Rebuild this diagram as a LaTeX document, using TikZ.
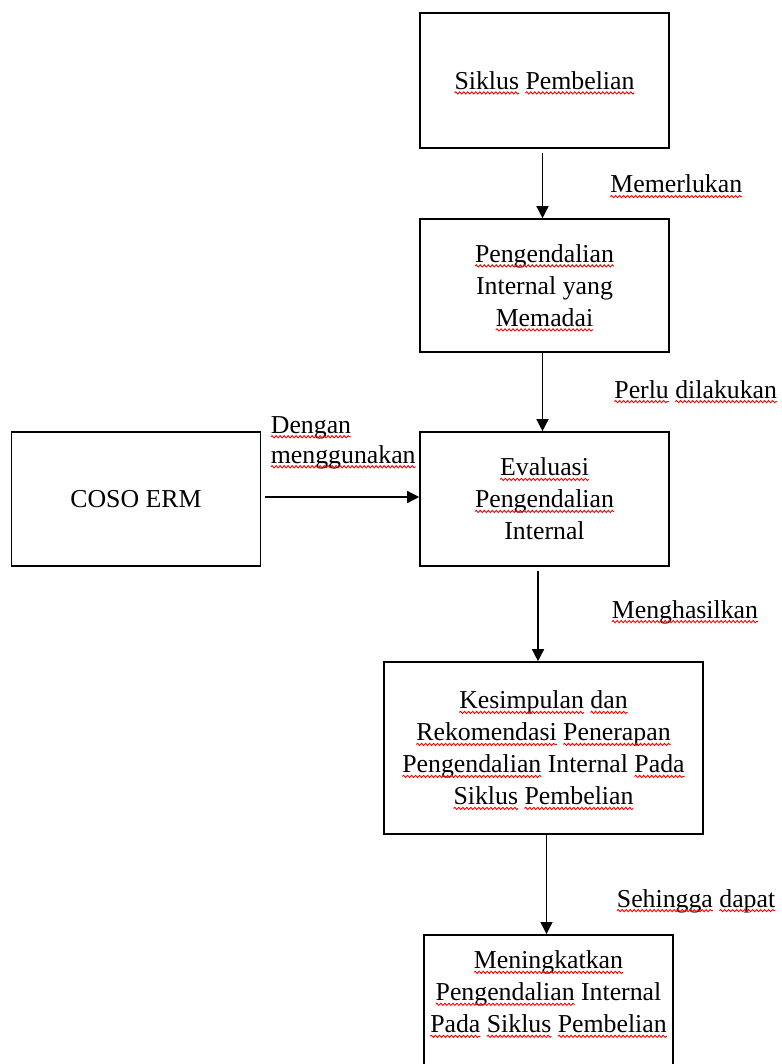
\documentclass[tikz,border=0pt]{standalone}
\usepackage{fontspec}
\setmainfont{Liberation Serif}
\usetikzlibrary{arrows.meta,decorations.pathmorphing}
\newsavebox\sqbox
\newdimen\sqw
\newcommand\sq[1]{\sbox\sqbox{#1}\sqw=\wd\sqbox\rlap{\usebox\sqbox}%
  \tikz[baseline=0pt,x=1pt,y=1pt]{\useasboundingbox (0,0) rectangle (\sqw,0.1);
  \draw[red,line width=0.45pt,decorate,
    decoration={snake,amplitude=0.55pt,segment length=2pt}] (0,-1.8) -- (\sqw,-1.8);}}
\tikzset{
  box/.style={draw, line width=0.8pt, align=center, inner sep=0pt,
    font=\fontsize{12.9}{16}\selectfont},
  lbl/.style={inner sep=0pt, align=left, font=\fontsize{12.9}{15}\selectfont},
  arr/.style={line width=0.7pt, -{Triangle[length=6pt,width=6pt]}},
}
\begin{document}
\begin{tikzpicture}[x=0.5pt,y=-0.5pt]
\useasboundingbox (0,0) rectangle (781,1064);
\clip (0,0) rectangle (781,1064);
% boxes
\node[box, minimum width=124.5pt, minimum height=67.5pt] (b1) at (544.5,80.5)
  {\sq{Siklus} \sq{Pembelian}};
\node[box, minimum width=124.5pt, minimum height=66.5pt] (b2) at (544.5,285.5)
  {\sq{Pengendalian}\\Internal yang\\\sq{Memadai}};
\node[box, minimum width=124.5pt, minimum height=67pt] (b3) at (544.5,499)
  {\sq{Evaluasi}\\\sq{Pengendalian}\\Internal};
\node[box, minimum width=124.5pt, minimum height=67pt] (coso) at (136,499)
  {COSO ERM};
\node[box, minimum width=159.5pt, minimum height=86pt] (b4) at (543.5,748)
  {\sq{Kesimpulan} \sq{dan}\\\sq{Rekomendasi} \sq{Penerapan}\\\sq{Pengendalian} Internal \sq{Pada}\\\sq{Siklus} \sq{Pembelian}};
\node[box, minimum width=124.5pt, minimum height=80pt, anchor=north] (b5) at (548.5,934) {};
\node[box, draw=none, anchor=north] (t5) at (548.5,950)
  {\sq{Meningkatkan}\\\sq{Pengendalian} Internal\\\sq{Pada} \sq{Siklus} \sq{Pembelian}};
% connectors
\draw[arr, shorten <=2pt] ([xshift=-1pt]b1.south) -- ([xshift=-1pt]b1.south |- b2.north);
\draw[arr] ([xshift=-1pt]b2.south) -- ([xshift=-1pt]b2.south |- b3.north);
\draw[arr, shorten <=2pt] ([yshift=1pt]coso.east) -- ([yshift=1pt]coso.east -| b3.west);
\draw[arr, shorten <=2pt] ([xshift=-3.25pt]b3.south) -- ([xshift=-3.25pt]b3.south |- b4.north);
\draw[arr] ([xshift=1.5pt]b4.south) -- ([xshift=1.5pt]b4.south |- b5.north);
% labels
\node[lbl, anchor=base west] (l1) at (610,193) {\sq{Memerlukan}};
\node[lbl, anchor=base west] (l2) at (614,398) {\sq{Perlu} \sq{dilakukan}};
\node[lbl, anchor=west] (l3) at (270.5,442.5) {\sq{Dengan}\\\sq{menggunakan}};
\node[lbl, anchor=base west] (l4) at (611.5,618) {\sq{Menghasilkan}};
\node[lbl, anchor=base west] (l5) at (616.5,907) {\sq{Sehingga} \sq{dapat}};
\end{tikzpicture}
\end{document}
